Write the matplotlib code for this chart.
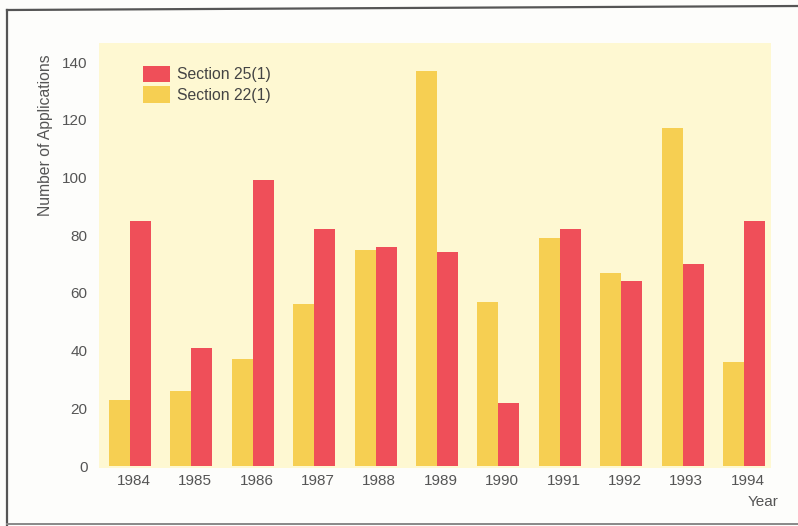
import matplotlib
matplotlib.use("Agg")
import matplotlib.pyplot as plt
import numpy as np
from matplotlib.lines import Line2D

plt.rcParams['font.family'] = ['Liberation Sans', 'DejaVu Sans']

years = ["1984", "1985", "1986", "1987", "1988", "1989",
         "1990", "1991", "1992", "1993", "1994"]
section_22 = [23, 26, 37, 56, 75, 137, 57, 79, 67, 117, 36]
section_25 = [85, 41, 99, 82, 76, 74, 22, 82, 64, 70, 85]
y_ticks = [0, 20, 40, 60, 80, 100, 120, 140]

W, H = 798, 526
fig = plt.figure(figsize=(W / 100, H / 100), dpi=100, facecolor="#fdfdfb")

# axes rectangle in pixel terms
left, right, top, bottom = 99.3, 771, 43, 468
ax = fig.add_axes([left / W, 1 - bottom / H, (right - left) / W, (bottom - top) / H])
ax.set_facecolor("#fef8d2")

yellow = "#f6cf52"
red = "#ef4f59"
text_col = "#555555"

x = np.arange(len(years))
w = 0.342
b25 = ax.bar(x + w / 2, section_25, width=w, color=red, label="Section 25(1)", linewidth=0)
b22 = ax.bar(x - w / 2, section_22, width=w, color=yellow, label="Section 22(1)", linewidth=0)

ax.set_xlim(-0.5, 10.44)
ax.set_ylim(-0.69, 146.6)
for s in ax.spines.values():
    s.set_visible(False)

ax.set_xticks(x + 0.06)
ax.set_xticklabels(years)
ax.set_yticks(y_ticks)
ax.set_yticklabels([str(v) for v in y_ticks])
ax.tick_params(axis="both", length=0, colors=text_col, labelsize=11)
ax.tick_params(axis="y", pad=8.5)
ax.tick_params(axis="x", pad=4)

fig.text(46 / W, 1 - 135 / H, "Number of Applications", rotation=90,
         ha="center", va="center", fontsize=11.3, color=text_col)
fig.text(763 / W, 1 - 502 / H, "Year", ha="center", va="center",
         fontsize=11, color=text_col)

ax.legend(handles=[b25, b22], loc="upper left",
          bbox_to_anchor=(142.7 / W, 1 - 65.7 / H), bbox_transform=fig.transFigure,
          frameon=False, fontsize=11.3, handlelength=1.75, handleheight=1.25,
          labelspacing=0.25, handletextpad=0.46, borderpad=0, borderaxespad=0,
          labelcolor="#444444")

# outer frame
frame_col = "#555555"
fig.add_artist(Line2D([7 / W, 1.0], [1 - 10 / H, 1 - 6 / H], color=frame_col, lw=1.6,
                      transform=fig.transFigure))
fig.add_artist(Line2D([7 / W, 7 / W], [1 - 10 / H, 0.0], color=frame_col, lw=1.6,
                      transform=fig.transFigure))
fig.add_artist(Line2D([7 / W, 1.0], [1 - 524 / H, 1 - 524 / H], color="#888888", lw=1.4,
                      transform=fig.transFigure))

fig.savefig("out.png", dpi=100, facecolor=fig.get_facecolor())
